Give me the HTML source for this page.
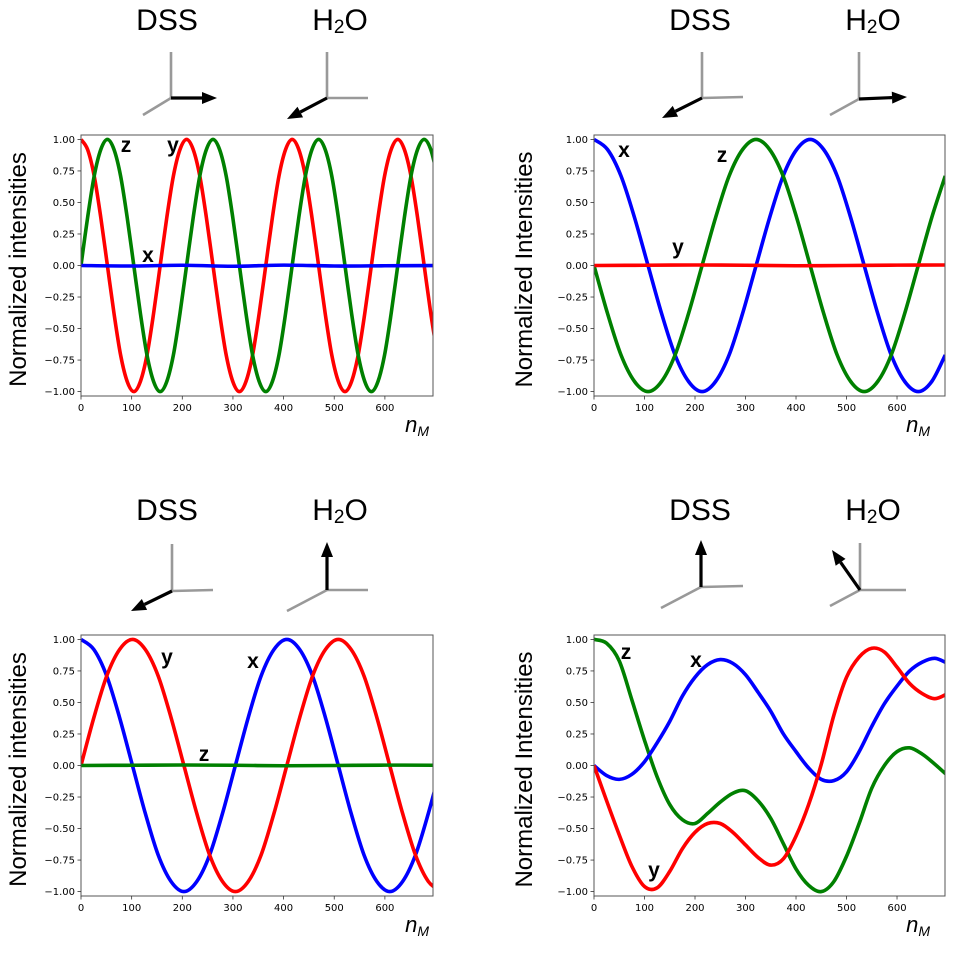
<!DOCTYPE html>
<html><head><meta charset="utf-8"><style>
html,body{margin:0;padding:0;background:#fff;}
svg{display:block;font-family:"DejaVu Sans","Liberation Sans",sans-serif;}
</style></head><body>
<svg id="fig" width="954" height="953" viewBox="0 0 954 953" xmlns="http://www.w3.org/2000/svg"></svg>
<script>
// Panel A (top-left)
const aStep = 13.03;
const aRed = [1,.92,.71,.38,0,-.38,-.71,-.92,-1,-.92,-.71,-.38,0,.38,.71,.92,1,.92,.71,.38,0,-.38,-.71,-.92,-1,-.92,-.71,-.38,0,.38,.71,.92,1,.92,.71,.38,0,-.38,-.71,-.92,-1,-.92,-.71,-.38,0,.38,.71,.92,1,.92,.71,.38,0,-.38,-.71];
const aGreen = [0,.38,.71,.92,1,.92,.71,.38,0,-.38,-.71,-.92,-1,-.92,-.71,-.38,0,.38,.71,.92,1,.92,.71,.38,0,-.38,-.71,-.92,-1,-.92,-.71,-.38,0,.38,.71,.92,1,.92,.71,.38,0,-.38,-.71,-.92,-1,-.92,-.71,-.38,0,.38,.71,.92,1,.92,.71];
const aBlueX = [0,100,200,300,400,500,600,700];
const aBlue = [0,-0.004,0.002,-0.006,0.003,-0.004,-0.002,0];
// Panel B (top-right)
const bStep = 26.75;
const bBlue = [1,.92,.71,.38,0,-.38,-.71,-.92,-1,-.92,-.71,-.38,0,.38,.71,.92,1,.92,.71,.38,0,-.38,-.71,-.92,-1,-.92,-.71];
const bGreen = [0,-.38,-.71,-.92,-1,-.92,-.71,-.38,0,.38,.71,.92,1,.92,.71,.38,0,-.38,-.71,-.92,-1,-.92,-.71,-.38,0,.38,.71];
const bRedX = [0,100,200,300,400,500,600,700];
const bRed = [0,0.002,0.004,0.002,-0.002,0,0.003,0.004];
// Panel C (bottom-left)
const cStep = 25.4;
const cBlue = [1,.92,.71,.38,0,-.38,-.71,-.92,-1,-.92,-.71,-.38,0,.38,.71,.92,1,.92,.71,.38,0,-.38,-.71,-.92,-1,-.92,-.71,-.38,0];
const cRed = [0,.38,.71,.92,1,.92,.71,.38,0,-.38,-.71,-.92,-1,-.92,-.71,-.38,0,.38,.71,.92,1,.92,.71,.38,0,-.38,-.71,-.92,-1];
const cGreenX = [0,100,200,300,400,500,600,700];
const cGreen = [0,0.002,0.004,0.002,-0.002,0,0.003,0.002];
// Panel D (bottom-right)
const dStep = 25;
const dGreen = [1,.97,.83,.52,.20,-.09,-.31,-.43,-.46,-.38,-.29,-.22,-.20,-.28,-.42,-.62,-.82,-.95,-1,-.92,-.72,-.46,-.18,0,.11,.14,.09,.01,-.08];
const dBlue = [0,-.08,-.11,-.07,.03,.18,.35,.55,.70,.80,.84,.81,.72,.58,.43,.25,.11,-.02,-.11,-.12,-.05,.11,.31,.49,.63,.75,.82,.85,.81];
const dRed = [0,-.28,-.55,-.80,-.96,-.97,-.84,-.66,-.53,-.46,-.46,-.53,-.63,-.73,-.79,-.74,-.56,-.31,.01,.40,.70,.86,.93,.90,.78,.65,.57,.53,.57];
const xTicks = [0,100,200,300,400,500,600];
const yTicks = [1,.75,.5,.25,0,-.25,-.5,-.75,-1];
const yTickLabels = ["1.00","0.75","0.50","0.25","0.00","\u22120.25","\u22120.50","\u22120.75","\u22121.00"];

const NS = "http://www.w3.org/2000/svg";
const fig = document.getElementById('fig');
function mk(tag, attrs, parent){const e=document.createElementNS(NS,tag);for(const k in attrs)e.setAttribute(k,attrs[k]);(parent||fig).appendChild(e);return e;}
function seq(step,n){const a=[];for(let i=0;i<n;i++)a.push(i*step);return a;}
function pathD(xs,ys,sx,sy){
  const p=xs.map((x,i)=>[sx(x),sy(ys[i])]);
  let d="M"+p[0][0].toFixed(2)+","+p[0][1].toFixed(2);
  for(let i=0;i<p.length-1;i++){
    const p0=p[Math.max(0,i-1)],p1=p[i],p2=p[i+1],p3=p[Math.min(p.length-1,i+2)];
    const c1x=p1[0]+(p2[0]-p0[0])/6,c1y=p1[1]+(p2[1]-p0[1])/6;
    const c2x=p2[0]-(p3[0]-p1[0])/6,c2y=p2[1]-(p3[1]-p1[1])/6;
    d+="C"+c1x.toFixed(2)+","+c1y.toFixed(2)+" "+c2x.toFixed(2)+","+c2y.toFixed(2)+" "+p2[0].toFixed(2)+","+p2[1].toFixed(2);
  }
  return d;
}
function panel(id,L,T,R,B,series,letters,ylab,ylOff,xlOff){
  const g=mk('g',{});
  
  
  const xmax=695, ymin=-1.035, ymax=1.035;
  const sx=v=>L+(v/xmax)*(R-L);
  const sy=v=>T+(ymax-v)/(ymax-ymin)*(B-T);
  const cid='clip-'+id;
  const cp=mk('clipPath',{id:cid},g);
  mk('rect',{x:L,y:T,width:R-L,height:B-T},cp);
  const sg=mk('g',{'clip-path':'url(#'+cid+')'},g);
  series.forEach(s=>{
    const p=mk('path',{d:pathD(s.x,s.y,sx,sy),fill:'none',stroke:s.c,'stroke-width':3.6,'stroke-linejoin':'round'},sg);
    
    
  });
  const fr=mk('rect',{x:L,y:T,width:R-L,height:B-T,fill:'none',stroke:'#555','stroke-width':1},g);
  
  
  xTicks.forEach(v=>{
    mk('line',{x1:sx(v),x2:sx(v),y1:B,y2:B+3.5,stroke:'#333','stroke-width':0.8},g);
    const t=mk('text',{x:sx(v),y:B+15,'font-size':10,'text-anchor':'middle',fill:'#000'},g);
    t.textContent=String(v);
    
    
  });
  yTicks.forEach((v,i)=>{
    mk('line',{x1:L-3.5,x2:L,y1:sy(v),y2:sy(v),stroke:'#333','stroke-width':0.8},g);
    const t=mk('text',{x:L-6,y:sy(v)+3.6,'font-size':10,'text-anchor':'end',fill:'#000'},g);
    t.textContent=yTickLabels[i];
    
    
  });
  const yl=mk('text',{x:0,y:0,'font-size':24,'text-anchor':'middle','font-family':'Liberation Sans, sans-serif',transform:'translate('+(L-ylOff)+','+((T+B)/2+4)+') rotate(-90)'},g);
  yl.textContent=ylab;
  
  
  const xl=mk('text',{x:R-xlOff,y:B+36,'font-size':22,'text-anchor':'end','font-style':'italic','font-family':'Liberation Sans, sans-serif'},g);
  xl.textContent='n';
  const sub=mk('tspan',{'font-size':14,dy:4},xl);
  sub.textContent='M';
  
  
  letters.forEach(l=>{
    const t=mk('text',{x:l[1],y:l[2],'font-size':21,'font-weight':'bold','text-anchor':'middle','font-family':'Liberation Sans, sans-serif'},g);
    t.textContent=l[0];
    
    
  });
}
panel('panel-top-left',81,135,433,396,[
  {name:'series-y-red',c:'#ff0000',x:seq(aStep,aRed.length),y:aRed},
  {name:'series-z-green',c:'#008000',x:seq(aStep,aGreen.length),y:aGreen},
  {name:'series-x-blue',c:'#0000ff',x:aBlueX,y:aBlue}],
  [['z',126,152],['y',173,152],['x',148,262]],'Normalized intensities',55,4);
panel('panel-top-right',594,135,945,396,[
  {name:'series-x-blue',c:'#0000ff',x:seq(bStep,bBlue.length),y:bBlue},
  {name:'series-z-green',c:'#008000',x:seq(bStep,bGreen.length),y:bGreen},
  {name:'series-y-red',c:'#ff0000',x:bRedX,y:bRed}],
  [['x',624,157],['z',722,162],['y',678,254]],'Normalized Intensities',62,15);
panel('panel-bottom-left',81,635,433,896,[
  {name:'series-x-blue',c:'#0000ff',x:seq(cStep,cBlue.length),y:cBlue},
  {name:'series-y-red',c:'#ff0000',x:seq(cStep,cRed.length),y:cRed},
  {name:'series-z-green',c:'#008000',x:cGreenX,y:cGreen}],
  [['y',167,664],['x',253,668],['z',204,761]],'Normalized intensities',55,4);
panel('panel-bottom-right',594,635,945,896,[
  {name:'series-z-green',c:'#008000',x:seq(dStep,dGreen.length),y:dGreen},
  {name:'series-x-blue',c:'#0000ff',x:seq(dStep,dBlue.length),y:dBlue},
  {name:'series-y-red',c:'#ff0000',x:seq(dStep,dRed.length),y:dRed}],
  [['z',626,659],['x',696,667],['y',654,877]],'Normalized Intensities',62,15);

// titles
[[167,30],[340,30],[700,30],[873,30],[167,520],[340,520],[700,520],[873,520]].forEach((p,i)=>{
  const t=mk('text',{x:p[0],y:p[1],'font-size':30,'text-anchor':'middle','font-family':'Liberation Sans, sans-serif'});
  if(i%2===0){t.textContent='DSS';}
  else{t.textContent='H';const s=mk('tspan',{'font-size':19,dy:3},t);s.textContent='2';const o=mk('tspan',{dy:-3},t);o.textContent='O';}
  
});
// axis icons: origin, gray segments, arrow end
const icons=[
  [171,98,[[171,52],[143,115]],[217,98]],
  [327,98,[[327,52],[368,98]],[287,119]],
  [702,98,[[702,52],[743,97]],[662,118]],
  [859,99,[[859,52],[830,115]],[907,97]],
  [172,591,[[172,544],[213,590]],[131,611]],
  [327,590,[[368,590],[287,611]],[327,542]],
  [701,587,[[743,586],[661,608]],[701,540]],
  [860,590,[[860,543],[906,590],[830,606]],[832,550]]
];
icons.forEach(ic=>{
  const g=mk('g',{});
  
  
  ic[2].forEach(e=>mk('line',{x1:ic[0],y1:ic[1],x2:e[0],y2:e[1],stroke:'#999','stroke-width':2.6},g));
  const dx=ic[3][0]-ic[0],dy=ic[3][1]-ic[1],len=Math.hypot(dx,dy),ux=dx/len,uy=dy/len;
  const hl=15,hw=6;
  const bx=ic[3][0]-ux*hl,by=ic[3][1]-uy*hl;
  mk('line',{x1:ic[0],y1:ic[1],x2:bx,y2:by,stroke:'#000','stroke-width':3.2},g);
  mk('polygon',{points:ic[3][0]+','+ic[3][1]+' '+(bx-uy*hw)+','+(by+ux*hw)+' '+(bx+uy*hw)+','+(by-ux*hw),fill:'#000'},g);
});
</script>
</body></html>
